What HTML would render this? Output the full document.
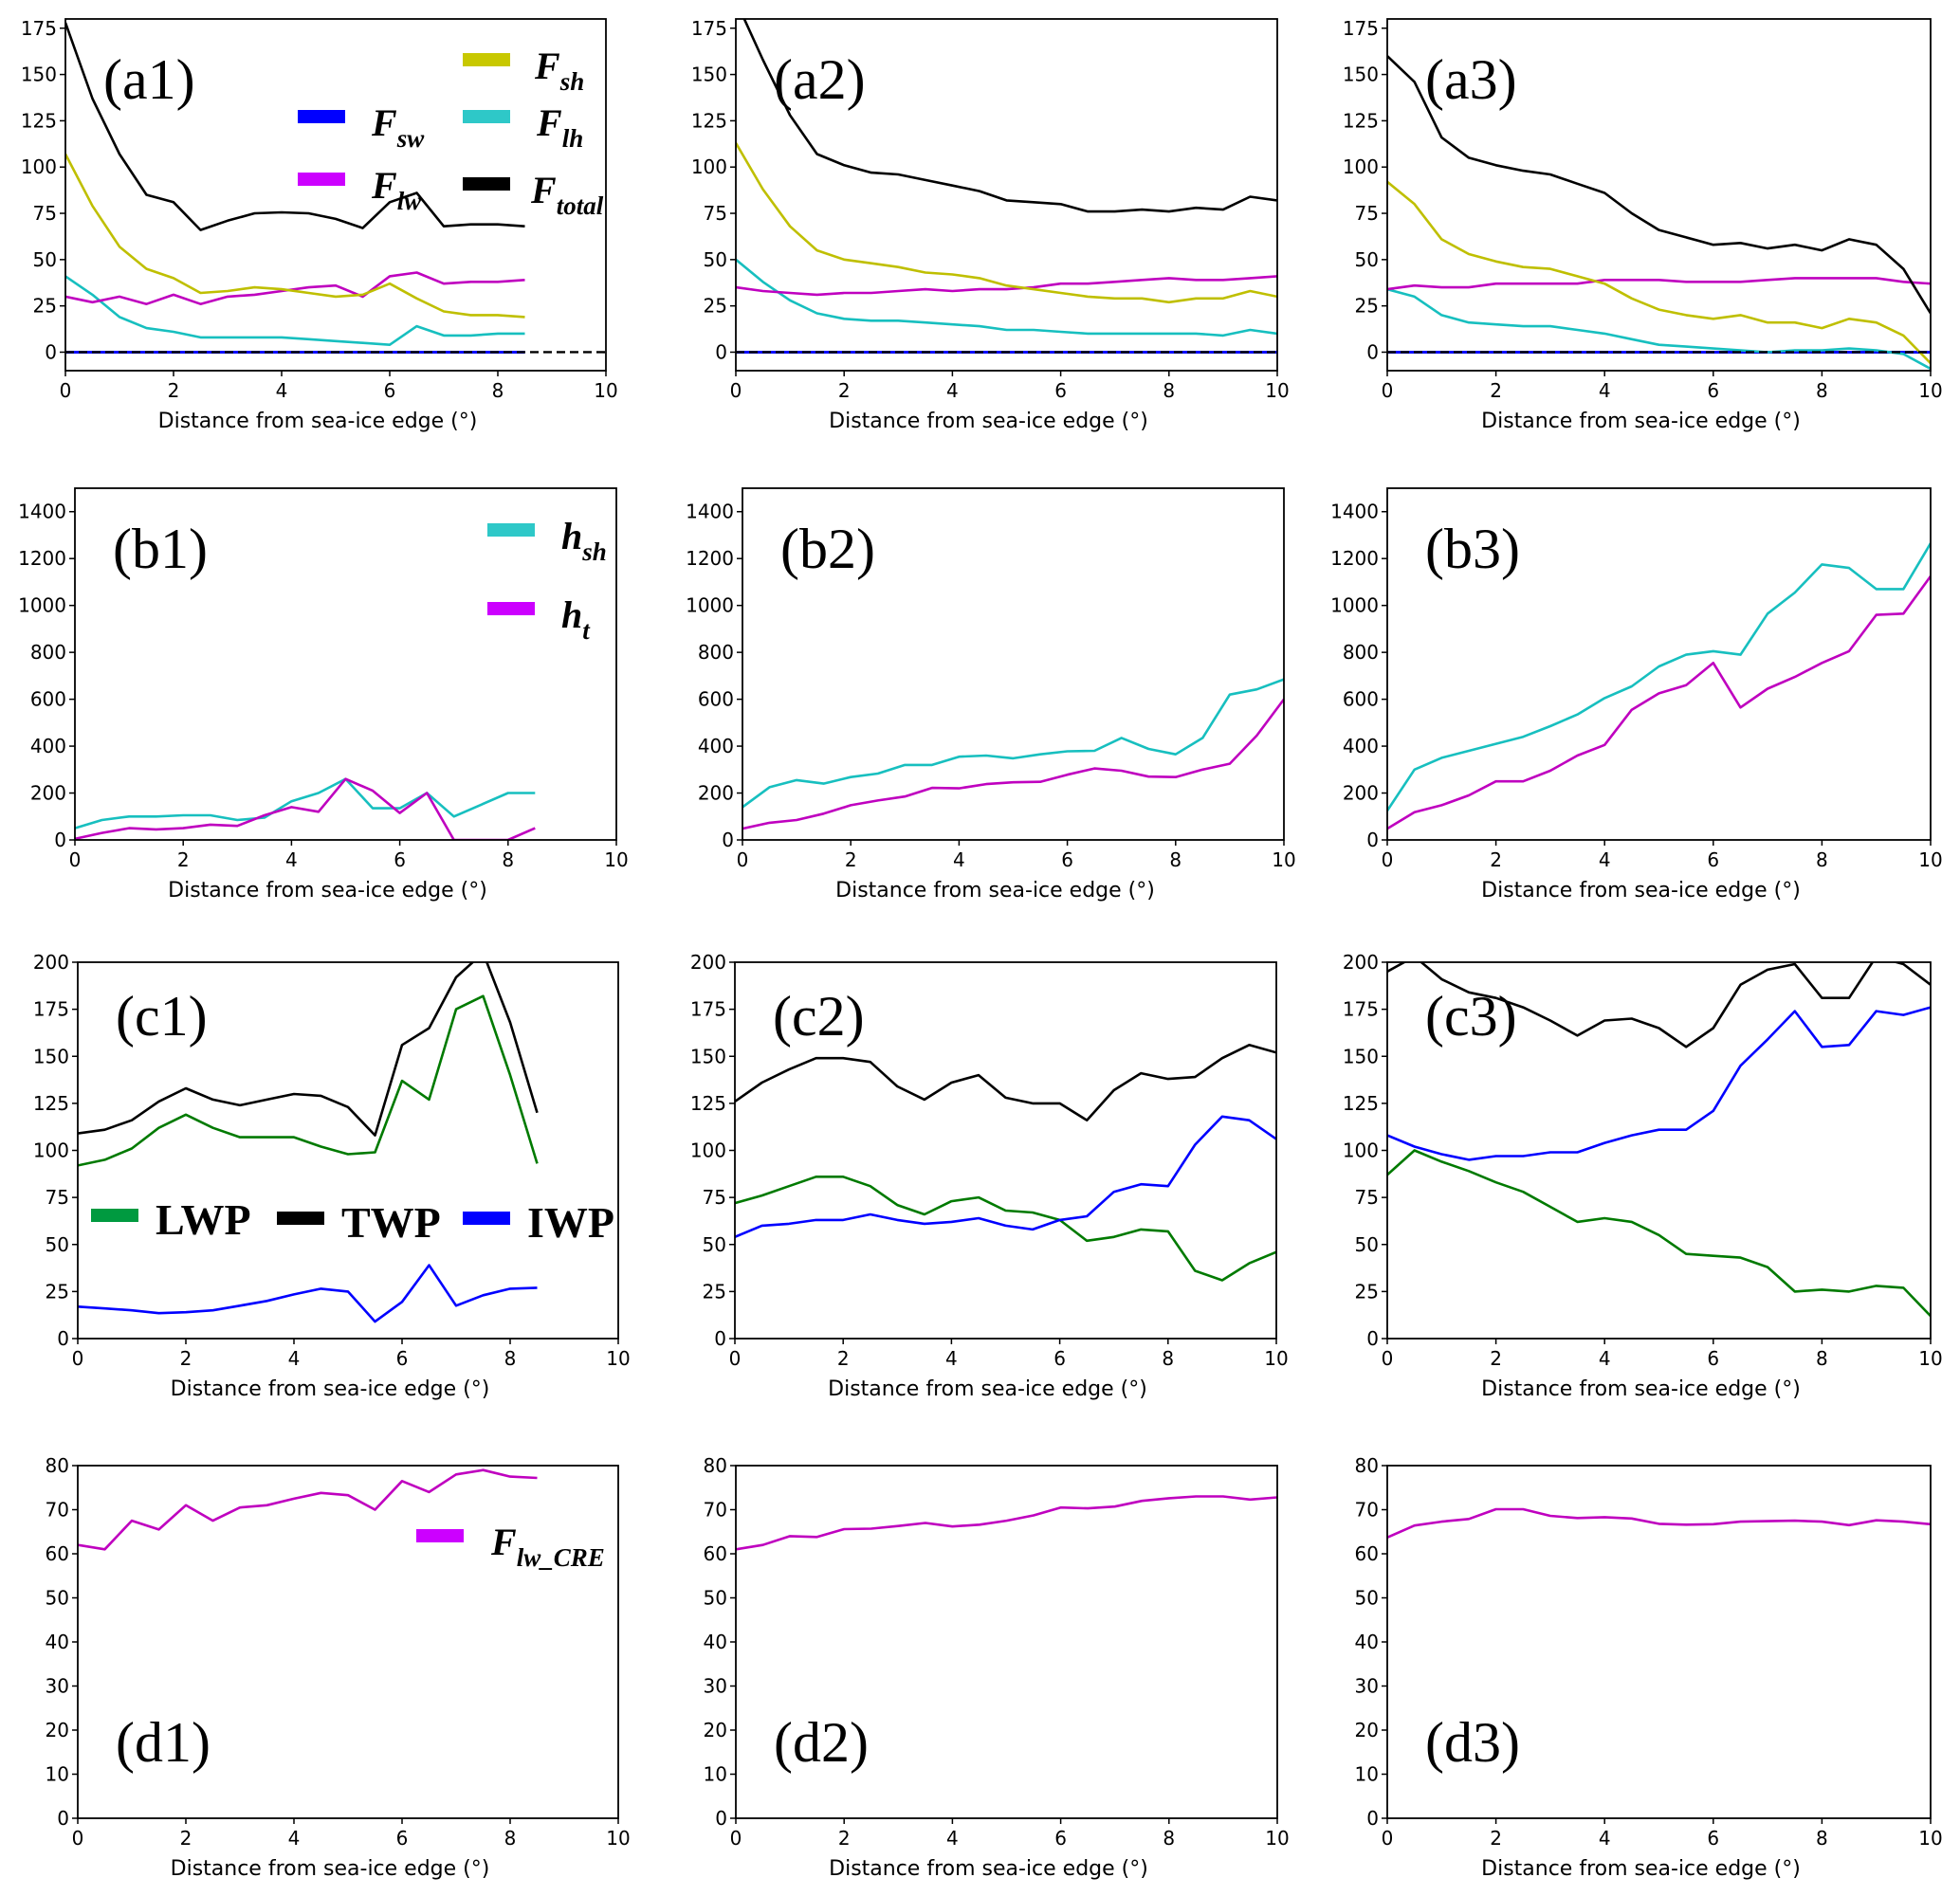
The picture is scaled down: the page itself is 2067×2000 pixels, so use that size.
<!DOCTYPE html>
<html><head><meta charset="utf-8"><style>
html,body{margin:0;padding:0;background:#fff;}
svg{display:block;}
.tk{font-family:"DejaVu Sans","Liberation Sans",sans-serif;font-size:20px;fill:#000;}
.xl{font-family:"DejaVu Sans","Liberation Sans",sans-serif;font-size:22px;fill:#000;}
.pl{font-family:"Liberation Serif",serif;font-size:60px;fill:#000;}
.lg{font-family:"Liberation Serif",serif;font-weight:bold;font-style:italic;font-size:40px;fill:#000;}
.lgs{font-size:27px;}
.lgb{font-family:"Liberation Serif",serif;font-weight:bold;font-size:46px;fill:#000;}
</style></head><body>
<svg id="fig" width="2067" height="2000" viewBox="0 0 2067 2000" xmlns="http://www.w3.org/2000/svg"></svg>
<script>
// x grids
const xFull = [0,0.5,1,1.5,2,2.5,3,3.5,4,4.5,5,5.5,6,6.5,7,7.5,8,8.5,9,9.5,10];
const xShort = [0,0.5,1,1.5,2,2.5,3,3.5,4,4.5,5,5.5,6,6.5,7,7.5,8,8.5];
const xTicks = [0,2,4,6,8,10];
const yTicksA = [0,25,50,75,100,125,150,175];
const yTicksB = [0,200,400,600,800,1000,1200,1400];
const yTicksC = [0,25,50,75,100,125,150,175,200];
const yTicksD = [0,10,20,30,40,50,60,70,80];
// row a: surface fluxes
const a1Total = [178,137,107,85,81,66,71,75,75.5,75,72,67,81,86,68,69,69,68];
const a1Sh = [107,79,57,45,40,32,33,35,34,32,30,31,37,29,22,20,20,19];
const a1Lw = [30,27,30,26,31,26,30,31,33,35,36,30,41,43,37,38,38,39];
const a1Lh = [41,31,19,13,11,8,8,8,8,7,6,5,4,14,9,9,10,10];
const a1Sw = [0,0,0,0,0,0,0,0,0,0,0,0,0,0,0,0,0,0];
const a2Total = [190,158,128,107,101,97,96,93,90,87,82,81,80,76,76,77,76,78,77,84,82];
const a2Sh = [113,88,68,55,50,48,46,43,42,40,36,34,32,30,29,29,27,29,29,33,30];
const a2Lw = [35,33,32,31,32,32,33,34,33,34,34,35,37,37,38,39,40,39,39,40,41];
const a2Lh = [50,38,28,21,18,17,17,16,15,14,12,12,11,10,10,10,10,10,9,12,10];
const a3Total = [160,146,116,105,101,98,96,91,86,75,66,62,58,59,56,58,55,61,58,45,21];
const a3Sh = [92,80,61,53,49,46,45,41,37,29,23,20,18,20,16,16,13,18,16,9,-6];
const a3Lw = [34,36,35,35,37,37,37,37,39,39,39,38,38,38,39,40,40,40,40,38,37];
const a3Lh = [34,30,20,16,15,14,14,12,10,7,4,3,2,1,0,1,1,2,1,-1,-9];
const zeroFull = [0,0,0,0,0,0,0,0,0,0,0,0,0,0,0,0,0,0,0,0,0];
// row b: heights
const b1Hsh = [50,85,100,100,105,105,85,95,165,200,260,135,135,200,100,150,200,200];
const b1Ht = [5,30,50,45,50,65,60,105,140,120,260,210,115,200,0,0,0,50];
const b2Hsh = [140,225,255,240,268,283,320,320,355,360,348,365,378,380,435,388,365,435,620,642,685];
const b2Ht = [48,73,85,112,148,168,185,222,220,238,246,248,278,305,295,270,268,300,325,445,600];
const b3Hsh = [125,300,350,380,410,440,485,535,605,655,740,790,805,790,965,1055,1175,1160,1070,1070,1265];
const b3Ht = [48,118,148,190,250,250,295,360,405,555,625,660,755,565,645,695,755,805,960,965,1125];
// row c: water paths
const c1Twp = [109,111,116,126,133,127,124,127,130,129,123,108,156,165,192,205,168,120];
const c1Lwp = [92,95,101,112,119,112,107,107,107,102,98,99,137,127,175,182,140,93];
const c1Iwp = [17,16,15,13.5,14,15,17.5,20,23.5,26.5,25,9,19.5,39,17.5,23,26.5,27];
const c2Twp = [126,136,143,149,149,147,134,127,136,140,128,125,125,116,132,141,138,139,149,156,152];
const c2Lwp = [72,76,81,86,86,81,71,66,73,75,68,67,63,52,54,58,57,36,31,40,46];
const c2Iwp = [54,60,61,63,63,66,63,61,62,64,60,58,63,65,78,82,81,103,118,116,106];
const c3Twp = [195,203,191,184,181,176,169,161,169,170,165,155,165,188,196,199,181,181,203,199,188];
const c3Lwp = [87,100,94,89,83,78,70,62,64,62,55,45,44,43,38,25,26,25,28,27,12];
const c3Iwp = [108,102,98,95,97,97,99,99,104,108,111,111,121,145,159,174,155,156,174,172,176];
// row d: LW CRE
const d1Cre = [62,61,67.5,65.5,71,67.5,70.5,71,72.5,73.8,73.3,70,76.5,74,78,79,77.5,77.2];
const d2Cre = [61,62,64,63.8,65.6,65.7,66.3,67,66.2,66.6,67.5,68.7,70.5,70.3,70.7,72,72.6,73,73,72.3,72.8];
const d3Cre = [63.7,66.4,67.3,67.9,70.1,70.1,68.6,68.1,68.3,68,66.8,66.6,66.7,67.3,67.4,67.5,67.3,66.5,67.6,67.3,66.7];

const NS='http://www.w3.org/2000/svg';
const svg=document.getElementById('fig');
function mk(tag,attrs,parent){const e=document.createElementNS(NS,tag);for(const k in attrs)e.setAttribute(k,attrs[k]);(parent||svg).appendChild(e);return e;}

const C={sh:'#bfbf00',lh:'#17bfbf',lw:'#bf00bf',tot:'#000',sw:'#0000ff',lwp:'#007a00',iwp:'#0000ff'};
const colX=[[69,639],[776,1347],[1463,2036]];
const rowsB=[[79,650],[783,1354],[1463,2036]];
const rowsC=[[82,652],[775,1346],[1463,2036]];
const rowY={a:[20,391],b:[515,886],c:[1015,1412],d:[1546,1918]};

const panels=[
 {id:'a1',x:colX[0],y:rowY.a,ylim:[-10,180],yt:yTicksA,zero:true,series:[['f-sw',a1Sw,xShort,C.sw],['f-lh',a1Lh,xShort,C.lh],['f-lw',a1Lw,xShort,C.lw],['f-sh',a1Sh,xShort,C.sh],['f-total',a1Total,xShort,C.tot]]},
 {id:'a2',x:colX[1],y:rowY.a,ylim:[-10,180],yt:yTicksA,zero:true,series:[['f-sw',zeroFull,xFull,C.sw],['f-lh',a2Lh,xFull,C.lh],['f-lw',a2Lw,xFull,C.lw],['f-sh',a2Sh,xFull,C.sh],['f-total',a2Total,xFull,C.tot]]},
 {id:'a3',x:colX[2],y:rowY.a,ylim:[-10,180],yt:yTicksA,zero:true,series:[['f-sw',zeroFull,xFull,C.sw],['f-lh',a3Lh,xFull,C.lh],['f-lw',a3Lw,xFull,C.lw],['f-sh',a3Sh,xFull,C.sh],['f-total',a3Total,xFull,C.tot]]},
 {id:'b1',x:rowsB[0],y:rowY.b,ylim:[0,1500],yt:yTicksB,series:[['h-sh',b1Hsh,xShort,C.lh],['h-t',b1Ht,xShort,C.lw]]},
 {id:'b2',x:rowsB[1],y:rowY.b,ylim:[0,1500],yt:yTicksB,series:[['h-sh',b2Hsh,xFull,C.lh],['h-t',b2Ht,xFull,C.lw]]},
 {id:'b3',x:rowsB[2],y:rowY.b,ylim:[0,1500],yt:yTicksB,series:[['h-sh',b3Hsh,xFull,C.lh],['h-t',b3Ht,xFull,C.lw]]},
 {id:'c1',x:rowsC[0],y:rowY.c,ylim:[0,200],yt:yTicksC,series:[['lwp',c1Lwp,xShort,C.lwp],['twp',c1Twp,xShort,C.tot],['iwp',c1Iwp,xShort,C.iwp]]},
 {id:'c2',x:rowsC[1],y:rowY.c,ylim:[0,200],yt:yTicksC,series:[['lwp',c2Lwp,xFull,C.lwp],['twp',c2Twp,xFull,C.tot],['iwp',c2Iwp,xFull,C.iwp]]},
 {id:'c3',x:rowsC[2],y:rowY.c,ylim:[0,200],yt:yTicksC,series:[['lwp',c3Lwp,xFull,C.lwp],['twp',c3Twp,xFull,C.tot],['iwp',c3Iwp,xFull,C.iwp]]},
 {id:'d1',x:rowsC[0],y:rowY.d,ylim:[0,80],yt:yTicksD,series:[['f-lw-cre',d1Cre,xShort,C.lw]]},
 {id:'d2',x:colX[1],y:rowY.d,ylim:[0,80],yt:yTicksD,series:[['f-lw-cre',d2Cre,xFull,C.lw]]},
 {id:'d3',x:colX[2],y:rowY.d,ylim:[0,80],yt:yTicksD,series:[['f-lw-cre',d3Cre,xFull,C.lw]]},
];

panels.forEach(p=>{
  const [L,R]=p.x,[T,B]=p.y;
  const g=mk('g',{});
  
  
  const sx=v=>L+(v/10)*(R-L);
  const sy=v=>B-(v-p.ylim[0])/(p.ylim[1]-p.ylim[0])*(B-T);
  const cid='clip-'+p.id;
  const cp=mk('clipPath',{id:cid},g);mk('rect',{x:L,y:T,width:R-L,height:B-T},cp);
  const plot=mk('g',{'clip-path':'url(#'+cid+')'},g);
  p.series.forEach(s=>{
    const pts=s[1].map((v,i)=>sx(s[2][i]).toFixed(1)+','+sy(v).toFixed(1)).join(' ');
    const pl=mk('polyline',{points:pts,fill:'none',stroke:s[3],'stroke-width':s[0]==='f-sw'?3:2.6,'stroke-linejoin':'round'},plot);
    
    
  });
  if(p.zero){
    const z=mk('line',{x1:L,x2:R,y1:sy(0),y2:sy(0),stroke:'#000','stroke-width':2.4,'stroke-dasharray':'9,5'},plot);
    
    
  }
  const fr=mk('rect',{x:L,y:T,width:R-L,height:B-T,fill:'none',stroke:'#000','stroke-width':1.8},g);
  
  
  xTicks.forEach(t=>{
    mk('line',{x1:sx(t),x2:sx(t),y1:B,y2:B+6,stroke:'#000','stroke-width':1.5},g);
    const tx=mk('text',{x:sx(t),y:B+28,'text-anchor':'middle',class:'tk'},g);tx.textContent=t;
    
    
  });
  p.yt.forEach(t=>{
    mk('line',{x1:L-6,x2:L,y1:sy(t),y2:sy(t),stroke:'#000','stroke-width':1.5},g);
    const ty=mk('text',{x:L-9,y:sy(t)+7,'text-anchor':'end',class:'tk'},g);ty.textContent=t;
    
    
  });
  const xl=mk('text',{x:(L+R)/2-19,y:B+60,'text-anchor':'middle',class:'xl'},g);
  xl.textContent='Distance from sea-ice edge (°)';
  
  
  const row=p.id[0];
  const ly=row==='d'?B-60:(row==='c'?T+77:T+84);
  const lb=mk('text',{x:L+40,y:ly,class:'pl'},g);
  lb.textContent='('+p.id+')';
  
  
});

function legendF(x1,y,color,tx,main,sub,cls){
  const g=mk('g',{});
  
  
  mk('rect',{x:x1,y:y-7,width:50,height:14,fill:color},g);
  const t=mk('text',{x:tx,y:y+20,class:cls||'lg'},g);
  t.textContent=main;
  if(sub){const s=mk('tspan',{class:'lgs',dy:12},t);s.textContent=sub;}
}
// a1 legend
legendF(314,123,'#0000ff',392,'F','sw');
legendF(314,189,'#cc00ff',392,'F','lw');
legendF(488,63,'#c8c800',564,'F','sh');
legendF(488,123,'#2ec8c8',566,'F','lh');
legendF(488,194,'#000000',560,'F','total');
// b1 legend
legendF(514,559,'#2ec8c8',592,'h','sh');
legendF(514,642,'#cc00ff',592,'h','t');
// c1 legend
legendF(96,1282,'#009a40',164,'LWP','','lgb');
legendF(292,1285,'#000000',360,'TWP','','lgb');
legendF(488,1285,'#0000ff',556,'IWP','','lgb');
// d1 legend
legendF(439,1620,'#cc00ff',518,'F','lw_CRE');
</script>
</body></html>
